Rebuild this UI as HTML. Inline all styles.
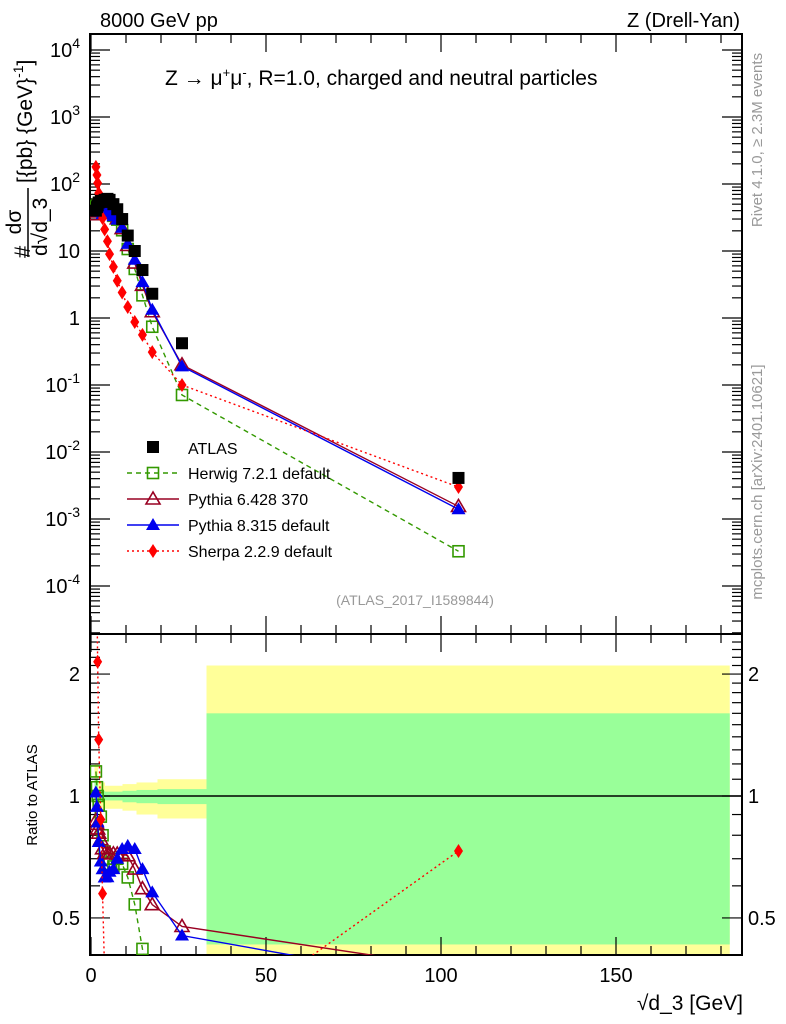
<!DOCTYPE html>
<html><head><meta charset="utf-8">
<style>
html,body{margin:0;padding:0;background:#fff;overflow:hidden;width:786px;height:1024px;}
svg{display:block;font-family:"Liberation Sans",sans-serif;overflow:hidden;}
</style></head>
<body>
<svg id="chart" width="786" height="1024" viewBox="0 0 786 1024" xmlns="http://www.w3.org/2000/svg">
<text x="100" y="27" font-size="20">8000 GeV pp</text>
<text x="740" y="27" font-size="20" text-anchor="end">Z (Drell-Yan)</text>
<text x="165" y="85" font-size="21">Z → μ<tspan dy="-8" font-size="13">+</tspan><tspan dy="8">μ</tspan><tspan dy="-8" font-size="13">-</tspan><tspan dy="8">, R=1.0, charged and neutral particles</tspan></text>
<text x="415" y="605" font-size="14" fill="#999" text-anchor="middle">(ATLAS_2017_I1589844)</text>
<text transform="translate(762,140) rotate(-90)" font-size="15" fill="#999" text-anchor="middle">Rivet 4.1.0, ≥ 2.3M events</text>
<text transform="translate(762,482) rotate(-90)" font-size="15" fill="#999" text-anchor="middle">mcplots.cern.ch [arXiv:2401.10621]</text>
<g>
<text transform="translate(30,258) rotate(-90)" font-size="22">#</text>
<text transform="translate(21,222) rotate(-90)" font-size="21" text-anchor="middle">dσ</text>
<line x1="28" y1="188" x2="28" y2="257" stroke="#000" stroke-width="1.5"/>
<text transform="translate(47,256) rotate(-90)" font-size="21">d√d_3</text>
<text transform="translate(32,183) rotate(-90)" font-size="21">[{pb} {GeV}<tspan dy="-9" font-size="14">-1</tspan><tspan dy="9">]</tspan></text>
</g>
<text transform="translate(37,795) rotate(-90)" font-size="15" text-anchor="middle">Ratio to ATLAS</text>
<text x="743" y="1010" font-size="21" text-anchor="end">√d_3 [GeV]</text>
</svg>
<script>
const xBins=[1.4,1.7,1.9,2.2,2.8,3.3,3.9,4.7,5.3,6.4,7.5,8.9,10.5,12.5,14.7,17.5,26,105];
const atlas=[40,45,48,53,56,54,58,60,58,50,42,30,17,10,5.2,2.3,0.42,0.0041];
const herwig=[46,47.3,48,50.4,49.8,43.2,42.3,42,39.4,33.5,29.4,20.4,10.7,5.4,2.18,0.74,0.071,0.00033];
const pythia6=[34.8,38.3,39.8,42.9,43.7,40,41.8,43.2,41.8,36,30.2,21.6,12.1,6.6,3.07,1.24,0.2,0.00154];
const pythia8=[40.8,42.3,41.3,40.8,38.6,35.6,36.5,37.8,37.7,33,29.4,22.2,12.8,7.4,3.43,1.33,0.19,0.0014];
const sherpa=[180,136,103,73,49,31,21,14,9,5.8,3.6,2.4,1.46,0.87,0.56,0.31,0.1,0.003];
const bandEdges=[1,2,4,9,13,19,33,182.5];
const yellowUp=[1.2,1.08,1.06,1.07,1.08,1.1,2.1];
const yellowDn=[0.85,0.92,0.93,0.92,0.9,0.88,0.38];
const greenUp=[1.1,1.03,1.025,1.03,1.035,1.04,1.6];
const greenDn=[0.92,0.97,0.975,0.965,0.96,0.955,0.43];
const xTicks=[0,50,100,150];
const mainTicks=["10^4","10^3","10^2","10","1","10^-1","10^-2","10^-3","10^-4"];
const ratioTicks=[0.5,1,2];

const NS="http://www.w3.org/2000/svg";
const svg=document.getElementById('chart');
const L=90,R=742,T=34,MB=634,RB=955;
const xs=v=>91+3.5*v;
const ys=v=>318-67*Math.log10(v);
const yr=v=>796-405*Math.log10(v);
function mk(tag,attrs,parent){const e=document.createElementNS(NS,tag);for(const k in attrs)e.setAttribute(k,attrs[k]);(parent||svg).appendChild(e);return e;}

const defs=mk('defs',{});
const cp1=mk('clipPath',{id:'cm'},defs);mk('rect',{x:L,y:T,width:R-L,height:MB-T},cp1);
const cp2=mk('clipPath',{id:'cr'},defs);mk('rect',{x:L,y:MB,width:R-L,height:RB-MB},cp2);

const bands=mk('g',{'clip-path':'url(#cr)'});


for(let i=0;i<yellowUp.length;i++){
  const x1=xs(bandEdges[i]),x2=xs(bandEdges[i+1]);
  const yb=mk('rect',{x:x1,y:yr(yellowUp[i]),width:x2-x1,height:yr(yellowDn[i])-yr(yellowUp[i]),fill:'#ffff99'},bands);
  
  
  const gb=mk('rect',{x:x1,y:yr(greenUp[i]),width:x2-x1,height:yr(greenDn[i])-yr(greenUp[i]),fill:'#99ff99'},bands);
  
  
}
mk('line',{x1:L,y1:yr(1),x2:R,y2:yr(1),stroke:'#000','stroke-width':1.5},bands);

mk('rect',{x:L,y:T,width:R-L,height:MB-T,fill:'none',stroke:'#000','stroke-width':2});
mk('rect',{x:L,y:MB,width:R-L,height:RB-MB,fill:'none',stroke:'#000','stroke-width':2});

for(let v=0;v<=180;v+=10){
  const big=v%50===0,len=big?18:9,x=xs(v);
  for(const [y0,dir] of [[T,1],[MB,-1],[MB,1],[RB,-1]])
    mk('line',{x1:x,y1:y0,x2:x,y2:y0+dir*len,stroke:'#000','stroke-width':1.2});
}
xTicks.forEach(v=>{const t=mk('text',{x:xs(v),y:982,'font-size':20,'text-anchor':'middle'});t.textContent=v;
  
  });

for(let d=-5;d<=4;d++){
  for(let m=1;m<10;m++){
    const y=ys(m*Math.pow(10,d)); if(y<T||y>MB)continue;
    const len=m===1?20:10;
    mk('line',{x1:L,y1:y,x2:L+len,y2:y,stroke:'#000','stroke-width':1.2});
    mk('line',{x1:R,y1:y,x2:R-len,y2:y,stroke:'#000','stroke-width':1.2});
  }
}
mainTicks.forEach((s,i)=>{
  const e=4-i,y=ys(Math.pow(10,e))+7;
  const t=mk('text',{x:80,y:y,'font-size':20,'text-anchor':'end'});
  
  
  if(s.indexOf('^')>0){const p=s.split('^');t.textContent=p[0];const sp=mk('tspan',{dy:-9,'font-size':14},t);sp.textContent=p[1];}
  else t.textContent=s;
});
[0.4,0.5,0.6,0.7,0.8,0.9,1,2,1.1,1.2,1.3,1.4,1.5,1.6,1.7,1.8,1.9,2.1,2.2,2.3,2.4].forEach(v=>{
  const y=yr(v); if(y<MB||y>RB)return;
  const len=(v===0.5||v===1||v===2)?20:10;
  mk('line',{x1:L,y1:y,x2:L+len,y2:y,stroke:'#000','stroke-width':1.2});
  mk('line',{x1:R,y1:y,x2:R-len,y2:y,stroke:'#000','stroke-width':1.2});
});
ratioTicks.forEach(v=>{
  for(const [x,a] of [[80,'end'],[748,'start']]){
    const t=mk('text',{x:x,y:yr(v)+7,'font-size':20,'text-anchor':a});t.textContent=v;
    
    
  }
});

function marker(g,type,x,y,col){
  if(type==='sq')return mk('rect',{x:x-6,y:y-6,width:12,height:12,fill:'#000'},g);
  if(type==='osq')return mk('rect',{x:x-5.5,y:y-5.5,width:11,height:11,fill:'none',stroke:col,'stroke-width':1.6},g);
  if(type==='otri')return mk('polygon',{points:`${x},${y-7} ${x-7},${y+5} ${x+7},${y+5}`,fill:'none',stroke:col,'stroke-width':1.6},g);
  if(type==='tri')return mk('polygon',{points:`${x},${y-7} ${x-7},${y+5} ${x+7},${y+5}`,fill:col},g);
  if(type==='dia')return mk('polygon',{points:`${x},${y-7} ${x-4.5},${y} ${x},${y+7} ${x+4.5},${y}`,fill:col},g);
}
const models=[
 {name:'herwig',vals:herwig,col:'#339900',m:'osq',dash:'5,4',label:'Herwig 7.2.1 default'},
 {name:'pythia6',vals:pythia6,col:'#990022',m:'otri',dash:'',label:'Pythia 6.428 370'},
 {name:'pythia8',vals:pythia8,col:'#0000ee',m:'tri',dash:'',label:'Pythia 8.315 default'},
 {name:'sherpa',vals:sherpa,col:'#ff0000',m:'dia',dash:'2,3',label:'Sherpa 2.2.9 default'}];

const gm=mk('g',{'clip-path':'url(#cm)'});
const gr=mk('g',{'clip-path':'url(#cr)'});
models.forEach(md=>{
  const g=mk('g',{},gm);
  
  
  const pts=xBins.map((x,i)=>xs(x)+','+ys(md.vals[i])).join(' ');
  mk('polyline',{points:pts,fill:'none',stroke:md.col,'stroke-width':1.4,'stroke-dasharray':md.dash},g);
  xBins.forEach((x,i)=>{const e=marker(g,md.m,xs(x),ys(md.vals[i]),md.col);
    
    });
  const h=mk('g',{},gr);
  
  
  const rp=xBins.map((x,i)=>xs(x)+','+yr(md.vals[i]/atlas[i])).join(' ');
  mk('polyline',{points:rp,fill:'none',stroke:md.col,'stroke-width':1.4,'stroke-dasharray':md.dash},h);
  xBins.forEach((x,i)=>{const e=marker(h,md.m,xs(x),yr(md.vals[i]/atlas[i]),md.col);
    
    });
});
const ga=mk('g',{'clip-path':'url(#cm)'});


xBins.forEach((x,i)=>{const e=marker(ga,'sq',xs(x),ys(atlas[i]),'#000');
  
  });

const lg=mk('g',{});


const le0=mk('g',{},lg);


marker(le0,'sq',153,447,'#000');
const t0=mk('text',{x:188,y:454,'font-size':16},le0);t0.textContent='ATLAS';
models.forEach((md,i)=>{
  const y=473+i*26;
  const e=mk('g',{},lg);
  
  
  mk('line',{x1:127,y1:y,x2:179,y2:y,stroke:md.col,'stroke-width':1.4,'stroke-dasharray':md.dash},e);
  marker(e,md.m,153,y,md.col);
  const t=mk('text',{x:188,y:y+6,'font-size':16},e);t.textContent=md.label;
});
</script>
</body></html>
